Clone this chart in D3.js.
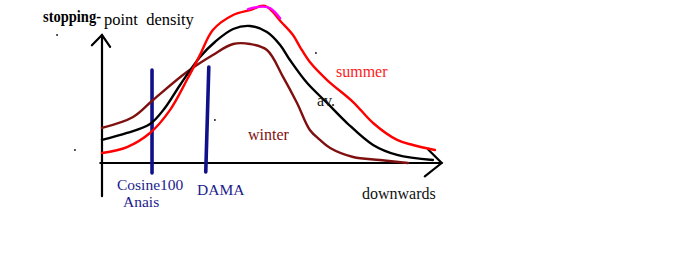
<!DOCTYPE html>
<html>
<head>
<meta charset="utf-8">
<script src="https://cdn.jsdelivr.net/npm/d3@7"></script>
<style>
  body { margin: 0; background: #fff; }
  svg { display: block; font-family: "Liberation Serif", "DejaVu Serif", serif; }
</style>
</head>
<body>
<svg id="chart" width="691" height="276"></svg>
<script>
'use strict';

// hand sketch, x = distance "downwards", y = stopping-point density (arbitrary units)
const summerX = [0, 7.4, 14.2, 20.1, 25.1, 29.0, 32.8, 38.8, 43.8, 48.2, 53.3, 56.5, 58.6, 61.5, 66.6, 74.3, 80.2, 87.3, 92.0, 98.5];
const summerY = [6.3, 10.1, 19.0, 33.5, 52.5, 68.4, 84.2, 93.7, 96.8, 99.4, 88.6, 81.0, 73.4, 63.9, 52.5, 38.6, 25.3, 14.6, 11.4, 8.2];

const peakX = [43.2, 47.3, 49.7, 52.7];
const peakY = [97.3, 99.0, 98.0, 91.6];

const avX = [0, 7.4, 14.2, 18.6, 23.1, 29.0, 33.4, 38.8, 43.8, 48.8, 52.7, 55.6, 60.7, 66.6, 72.5, 80.2, 87.3, 97.9];
const avY = [14.6, 19.0, 24.7, 34.8, 49.4, 67.1, 76.6, 84.8, 86.7, 82.9, 74.7, 65.2, 50.6, 38.0, 25.3, 11.4, 5.1, 1.9];

const winterX = [0, 9.2, 15.1, 25.1, 32.8, 38.8, 43.8, 48.8, 53.6, 57.7, 61.5, 64.5, 67.5, 74.3, 82.2, 90.5];
const winterY = [22.2, 29.1, 39.9, 57.6, 68.4, 75.3, 75.3, 71.5, 54.4, 38.0, 20.9, 14.6, 9.5, 3.8, 1.9, 0];

const detectorNames = [["Cosine100", "Anais"], ["DAMA"]];
const detectorTopX = [14.8, 31.6];
const detectorBottomX = [14.8, 30.7];
const detectorTop = [58.9, 60.8];
const detectorBottom = [-6.3, -5.7];

// stray specks in the sketch
const speckX = [-8, 33.4, 63.3, -13.3];
const speckY = [8.2, 27.2, 69.6, 81];

const svg = d3.select('#chart');

const x = d3.scaleLinear().domain([0, 100]).range([102, 440]);
const y = d3.scaleLinear().domain([0, 100]).range([163, 5]);

const zip = (xs, ys) => xs.map((v, i) => [v, ys[i]]);

const line = d3.line()
  .x(d => x(d[0]))
  .y(d => y(d[1]))
  .curve(d3.curveCatmullRom);

// axes, drawn as plain arrows like the sketch
const axisG = svg.append('g')
  .attr('stroke', '#000')
  .attr('stroke-width', 2.2)
  .attr('fill', 'none')
  .attr('stroke-linecap', 'round');

axisG.append('path').attr('d', line([[0, -21], [0, 81]]));
axisG.append('path').attr('d', `M${x(-3)},${y(74.5)}L${x(0)},${y(81)}L${x(2.4)},${y(73.5)}`);
axisG.append('path').attr('d', line([[-0.5, 0], [100.5, 0]]));
axisG.append('path').attr('d', `M${x(96.5)},${y(8.5)}L${x(100.5)},${y(0)}L${x(95.5)},${y(-8.5)}`);

// detector lines
svg.append('g')
  .selectAll('line')
  .data(detectorNames)
  .enter()
  .append('line')
  .attr('x1', (d, i) => x(detectorTopX[i]))
  .attr('y1', (d, i) => y(detectorTop[i]))
  .attr('x2', (d, i) => x(detectorBottomX[i]))
  .attr('y2', (d, i) => y(detectorBottom[i]))
  .attr('stroke', '#10108a')
  .attr('stroke-width', 3.6)
  .attr('stroke-linecap', 'round');

const curves = [
  { pts: zip(winterX, winterY), color: '#7f1010' },
  { pts: zip(avX, avY), color: '#000' },
  { pts: zip(summerX, summerY), color: '#ff0000' },
  { pts: zip(peakX, peakY), color: '#ff00ff' }
];

svg.append('g')
  .selectAll('path')
  .data(curves)
  .enter()
  .append('path')
  .attr('d', d => line(d.pts))
  .attr('fill', 'none')
  .attr('stroke', d => d.color)
  .attr('stroke-width', 2.4)
  .attr('stroke-linecap', 'round');

svg.append('g')
  .selectAll('circle')
  .data(zip(speckX, speckY))
  .enter()
  .append('circle')
  .attr('cx', d => x(d[0]))
  .attr('cy', d => y(d[1]))
  .attr('r', 1)
  .attr('fill', '#222');

// titles and labels
svg.append('text')
  .attr('x', 43).attr('y', 22)
  .attr('font-size', 16).attr('font-weight', 'bold')
  .attr('textLength', 58).attr('lengthAdjust', 'spacingAndGlyphs')
  .text('stopping-');
svg.append('text')
  .attr('x', 104).attr('y', 25)
  .attr('font-size', 16.5)
  .attr('xml:space', 'preserve')
  .text('point  density');

svg.append('text').attr('x', 336).attr('y', 77).attr('font-size', 16).attr('fill', '#ff1a1a').text('summer');
svg.append('text').attr('x', 317).attr('y', 106).attr('font-size', 16).attr('fill', '#111').text('av.');
svg.append('text').attr('x', 248).attr('y', 140).attr('font-size', 16).attr('fill', '#7f1010').text('winter');
svg.append('text').attr('x', 362).attr('y', 199).attr('font-size', 16).attr('fill', '#111').text('downwards');

const labelX = [117, 197];
const labelY = [190, 195];
detectorNames.forEach((names, i) => {
  const t = svg.append('text')
    .attr('x', labelX[i]).attr('y', labelY[i])
    .attr('font-size', 15.5)
    .attr('fill', '#1c1c8c');
  names.forEach((n, j) => {
    t.append('tspan')
      .attr('x', labelX[i] + j * 6)
      .attr('dy', j === 0 ? 0 : 17)
      .text(n);
  });
});
</script>
</body>
</html>
